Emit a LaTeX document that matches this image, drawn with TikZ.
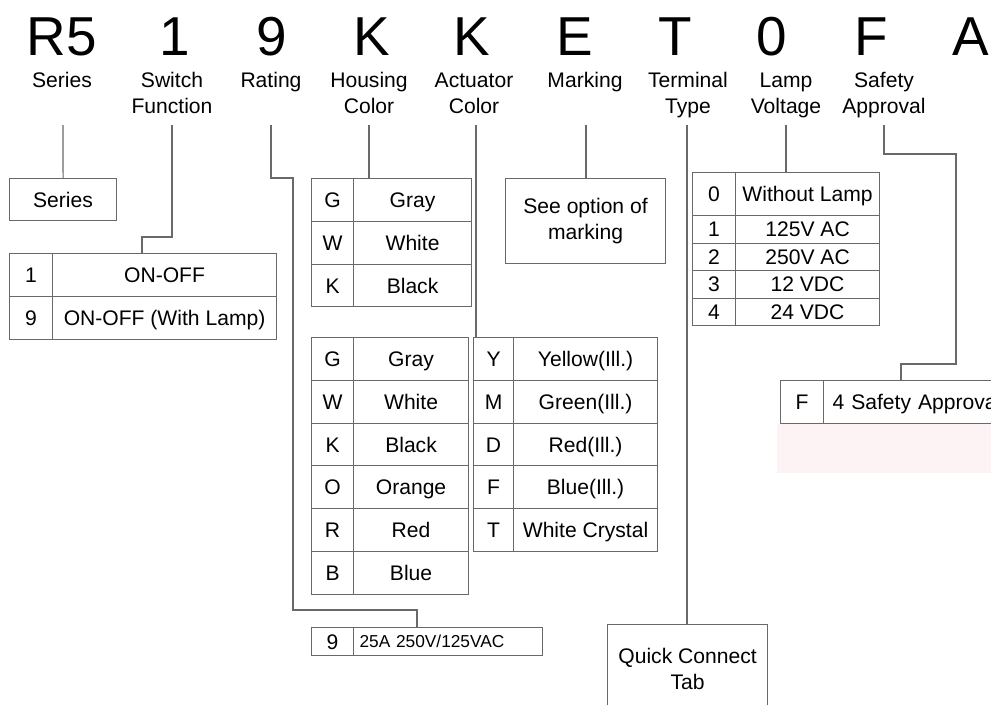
\documentclass[tikz,border=0pt]{standalone}
\usepackage{fontspec}
\setmainfont{Liberation Sans}
\definecolor{linegray}{RGB}{105,105,105}
\definecolor{blush}{RGB}{253,242,244}

\begin{document}
\begin{tikzpicture}[
    x=0.025cm, y=-0.025cm,
    letter/.style={anchor=base, inner sep=0pt, font=\fontsize{39}{46}\selectfont},
    caption/.style={anchor=north, align=center, inner sep=0pt, font=\fontsize{15}{18.5}\selectfont},
    cell/.style={rectangle, draw=linegray, line width=0.75pt, anchor=north west, inner sep=0pt,
        minimum height=1.07cm, text height=10.7pt, text depth=0pt, font=\fontsize{15}{18.5}\selectfont},
    box/.style={rectangle, draw=linegray, line width=0.75pt, anchor=north west, align=center,
        inner sep=0pt, font=\fontsize{15}{18.5}\selectfont},
    link/.style={draw=linegray, line width=0.75pt}
]
\path[use as bounding box, fill=white] (0,0) rectangle (991,704);
\clip (0,0) rectangle (991,704);

% part number
\node[letter] (ltr-series) at (62,55) {R5};
\node[letter] (ltr-switch) at (175,55) {1};
\node[letter] (ltr-rating) at (272,55) {9};
\node[letter] (ltr-housing) at (372,55) {K};
\node[letter] (ltr-actuator) at (472,55) {K};
\node[letter] (ltr-marking) at (575,55) {E};
\node[letter] (ltr-terminal) at (675,55) {T};
\node[letter] (ltr-lamp) at (772,55) {0};
\node[letter] (ltr-safety) at (871,55) {F};
\node[letter] (ltr-last) at (971,55) {A};

\node[caption] (cap-series) at (62,68.8) {\strut Series};
\node[caption] (cap-switch) at (172,68.8) {\strut Switch\\Function};
\node[caption] (cap-rating) at (271,68.8) {\strut Rating};
\node[caption] (cap-housing) at (369,68.8) {\strut Housing\\Color};
\node[caption] (cap-actuator) at (474,68.8) {\strut Actuator\\Color};
\node[caption] (cap-marking) at (585,68.8) {\strut Marking};
\node[caption] (cap-terminal) at (688,68.8) {\strut Terminal\\Type};
\node[caption] (cap-lamp) at (786,68.8) {\strut Lamp\\Voltage};
\node[caption] (cap-safety) at (884,68.8) {\strut Safety\\Approval};

\coordinate (series-tap) at (63,125);
\coordinate (switch-tap) at (172,125);
\coordinate (rating-tap) at (271,125);
\coordinate (housing-tap) at (369,125);
\coordinate (actuator-tap) at (476,125);
\coordinate (marking-tap) at (586,125);
\coordinate (terminal-tap) at (687,125);
\coordinate (lamp-tap) at (786,125);
\coordinate (safety-tap) at (884,125);

% series
\node[cell, minimum width=2.675cm, minimum height=1.05cm] (series-box) at (9,178) {Series};

% switch function
\node[cell, minimum width=1.075cm, minimum height=1.075cm] (sw-1) at (9,253) {1};
\node[cell, minimum width=5.6cm, minimum height=1.075cm] (sw-1name) at (52,253) {ON-OFF};
\node[cell, minimum width=1.075cm, minimum height=1.075cm] (sw-9) at (9,296) {9};
\node[cell, minimum width=5.6cm, minimum height=1.075cm] (sw-9name) at (52,296) {ON-OFF (With Lamp)};

% housing color
\node[cell, minimum width=1.05cm] (hc-G) at (311,178) {G};
\node[cell, minimum width=2.95cm] (hc-Gname) at (353,178) {Gray};
\node[cell, minimum width=1.05cm] (hc-W) at (311,220.8) {W};
\node[cell, minimum width=2.95cm] (hc-Wname) at (353,220.8) {White};
\node[cell, minimum width=1.05cm] (hc-K) at (311,263.6) {K};
\node[cell, minimum width=2.95cm] (hc-Kname) at (353,263.6) {Black};

% actuator color
\node[cell, minimum width=1.05cm] (ac-G) at (311,337) {G};
\node[cell, minimum width=2.875cm] (ac-Gname) at (353,337) {Gray};
\node[cell, minimum width=1.05cm] (ac-W) at (311,379.8) {W};
\node[cell, minimum width=2.875cm] (ac-Wname) at (353,379.8) {White};
\node[cell, minimum width=1.05cm] (ac-K) at (311,422.6) {K};
\node[cell, minimum width=2.875cm] (ac-Kname) at (353,422.6) {Black};
\node[cell, minimum width=1.05cm] (ac-O) at (311,465.4) {O};
\node[cell, minimum width=2.875cm] (ac-Oname) at (353,465.4) {Orange};
\node[cell, minimum width=1.05cm] (ac-R) at (311,508.2) {R};
\node[cell, minimum width=2.875cm] (ac-Rname) at (353,508.2) {Red};
\node[cell, minimum width=1.05cm] (ac-B) at (311,551) {B};
\node[cell, minimum width=2.875cm] (ac-Bname) at (353,551) {Blue};

\node[cell, minimum width=1cm] (ac-Y) at (473,337) {Y};
\node[cell, minimum width=3.6cm] (ac-Yname) at (513,337) {Yellow(Ill.)};
\node[cell, minimum width=1cm] (ac-M) at (473,379.8) {M};
\node[cell, minimum width=3.6cm] (ac-Mname) at (513,379.8) {Green(Ill.)};
\node[cell, minimum width=1cm] (ac-D) at (473,422.6) {D};
\node[cell, minimum width=3.6cm] (ac-Dname) at (513,422.6) {Red(Ill.)};
\node[cell, minimum width=1cm] (ac-F) at (473,465.4) {F};
\node[cell, minimum width=3.6cm] (ac-Fname) at (513,465.4) {Blue(Ill.)};
\node[cell, minimum width=1cm] (ac-T) at (473,508.2) {T};
\node[cell, minimum width=3.6cm] (ac-Tname) at (513,508.2) {White Crystal};

% marking
\node[box, minimum width=4cm, minimum height=2.125cm] (marking-box) at (505,178) {See option of\\marking};

% rating
\node[cell, minimum width=1.05cm, minimum height=0.7cm] (rt-9) at (311,627) {9};
\node[cell, minimum width=4.725cm, minimum height=0.7cm, text width=4.425cm, inner xsep=0.15cm,
    align=left, font=\fontsize{12.3}{15}\selectfont, text height=8.8pt] (rt-9name) at (353,627) {25A 250V/125VAC};

% terminal type
\node[box, minimum width=4cm, minimum height=2.2cm] (terminal-box) at (607,624) {Quick Connect\\Tab};

% lamp voltage
\node[cell, minimum width=1.075cm, minimum height=1.075cm] (lv-0) at (692,172) {0};
\node[cell, minimum width=3.6cm, minimum height=1.075cm] (lv-0name) at (735,172) {Without Lamp};
\node[cell, minimum width=1.075cm, minimum height=0.6875cm] (lv-1) at (692,215) {1};
\node[cell, minimum width=3.6cm, minimum height=0.6875cm] (lv-1name) at (735,215) {125V AC};
\node[cell, minimum width=1.075cm, minimum height=0.6875cm] (lv-2) at (692,242.5) {2};
\node[cell, minimum width=3.6cm, minimum height=0.6875cm] (lv-2name) at (735,242.5) {250V AC};
\node[cell, minimum width=1.075cm, minimum height=0.6875cm] (lv-3) at (692,270) {3};
\node[cell, minimum width=3.6cm, minimum height=0.6875cm] (lv-3name) at (735,270) {12 VDC};
\node[cell, minimum width=1.075cm, minimum height=0.6875cm] (lv-4) at (692,297.5) {4};
\node[cell, minimum width=3.6cm, minimum height=0.6875cm] (lv-4name) at (735,297.5) {24 VDC};

% safety approval
\fill[blush] (777,423.5) rectangle (1000,473);
\node[cell, minimum width=1.075cm, minimum height=1.075cm] (sa-F) at (780,380) {F};
\node[cell, minimum width=6cm, minimum height=1.075cm, text width=5.55cm, inner xsep=0.225cm,
    align=left] (sa-Fname) at (823,380) {4 Safety Approval};

% links
\coordinate (switch-bend) at (142,237);
\coordinate (rating-bend1) at (293,178);
\coordinate (rating-bend2) at (417,610);
\coordinate (safety-bend1) at (956,154);
\coordinate (safety-bend2) at (901,364);

\draw[link] (series-tap) -- (series-box);
\draw[link] (switch-tap) |- (switch-bend) -- (switch-bend |- sw-1name.north);
\draw[link] (rating-tap) |- (rating-bend1) |- (rating-bend2) -- (rating-bend2 |- rt-9name.north);
\draw[link] (housing-tap) -- (housing-tap |- hc-Gname.north);
\draw[link] (actuator-tap) -- (actuator-tap |- ac-Y.north);
\draw[link] (marking-tap) -- (marking-tap |- marking-box.north);
\draw[link] (terminal-tap) -- (terminal-tap |- terminal-box.north);
\draw[link] (lamp-tap) -- (lamp-tap |- lv-0name.north);
\draw[link] (safety-tap) |- (safety-bend1) |- (safety-bend2) -- (safety-bend2 |- sa-Fname.north);

\end{tikzpicture}
\end{document}
